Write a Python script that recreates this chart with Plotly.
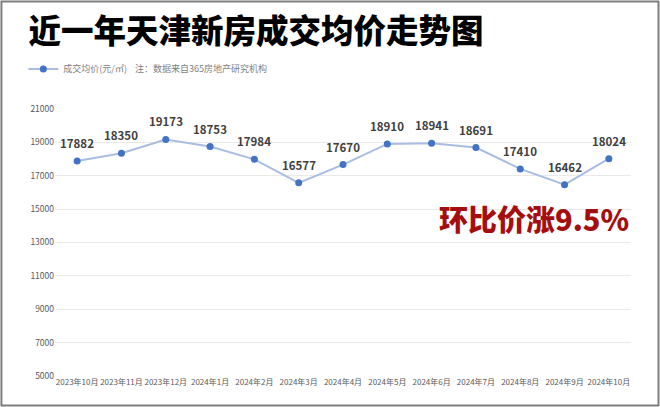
import plotly.graph_objects as go

months = ['2023年10月', '2023年11月', '2023年12月', '2024年1月', '2024年2月', '2024年3月',
          '2024年4月', '2024年5月', '2024年6月', '2024年7月', '2024年8月', '2024年9月', '2024年10月']
avg_price = [17882, 18350, 19173, 18753, 17984, 16577, 17670, 18910, 18941, 18691, 17410, 16462, 18024]
y_ticks = [5000, 7000, 9000, 11000, 13000, 15000, 17000, 19000, 21000]

FONT = 'Noto Sans CJK SC'

fig = go.Figure()

fig.add_trace(
    go.Scatter(
        x=months,
        y=avg_price,
        mode='lines+markers',
        name='成交均价(元/㎡)',
        line=dict(color='#A9BDE2', width=2),
        marker=dict(color='#4472C4', size=7),
        cliponaxis=False
    )
)

# value labels sit a bit higher above the points than plotly's text offset
for m, v in zip(months, avg_price):
    fig.add_annotation(
        x=m, y=v,
        text=str(v),
        showarrow=False,
        yshift=18,
        font=dict(family=FONT, size=11.5, color='#404040', weight='bold')
    )

fig.update_layout(
    width=660,
    height=407,
    margin=dict(l=55, r=29, t=109, b=31),
    paper_bgcolor='white',
    plot_bgcolor='white',
    font=dict(family=FONT, color='#595959'),
    showlegend=True,
    legend=dict(
        orientation='h',
        x=-0.055, y=1.15,
        xanchor='left', yanchor='middle',
        font=dict(size=9, color='#7F7F7F'),
        itemwidth=30
    ),
    title=dict(
        text='近一年天津新房成交均价走势图',
        x=0.043, xanchor='left',
        y=0.922, yanchor='middle',
        font=dict(family=FONT, size=32.5, color='#000000', weight=900)
    ),
    xaxis=dict(
        type='category',
        range=[-0.5, 12.5],
        showgrid=False,
        showline=False,
        ticks='',
        tickangle=0,
        automargin=False,
        tickfont=dict(size=8, color='#595959')
    ),
    yaxis=dict(
        range=[5000, 21000],
        tickvals=y_ticks,
        ticktext=[str(v) for v in y_ticks],
        showgrid=True,
        gridcolor='#E9E9E9',
        gridwidth=1,
        zeroline=False,
        ticks='',
        automargin=False,
        tickfont=dict(size=8.5, color='#595959')
    )
)

# source note beside the legend
fig.add_annotation(
    text='注：数据来自365房地产研究机构',
    xref='paper', yref='paper',
    x=0.135, y=1.15,
    xanchor='left', yanchor='middle',
    showarrow=False,
    font=dict(family=FONT, size=9, color='#7F7F7F')
)

# big red callout
fig.add_annotation(
    text='环比价涨9.5%',
    xref='paper', yref='paper',
    x=1.0, y=0.59,
    xanchor='right', yanchor='middle',
    showarrow=False,
    font=dict(family=FONT, size=29, color='#A50E0E', weight=900)
)

# gray frame around the picture
fig.add_shape(
    type='rect',
    xref='paper', yref='paper',
    x0=-0.093, x1=1.0477, y0=-0.1105, y1=1.4026,
    line=dict(color='#7F7F7F', width=2),
    layer='above'
)

# drop the default page margin so the figure sits flush in the window
fig.write_html('out.html', config={'displayModeBar': False},
               post_script="document.body.style.margin='0';")
